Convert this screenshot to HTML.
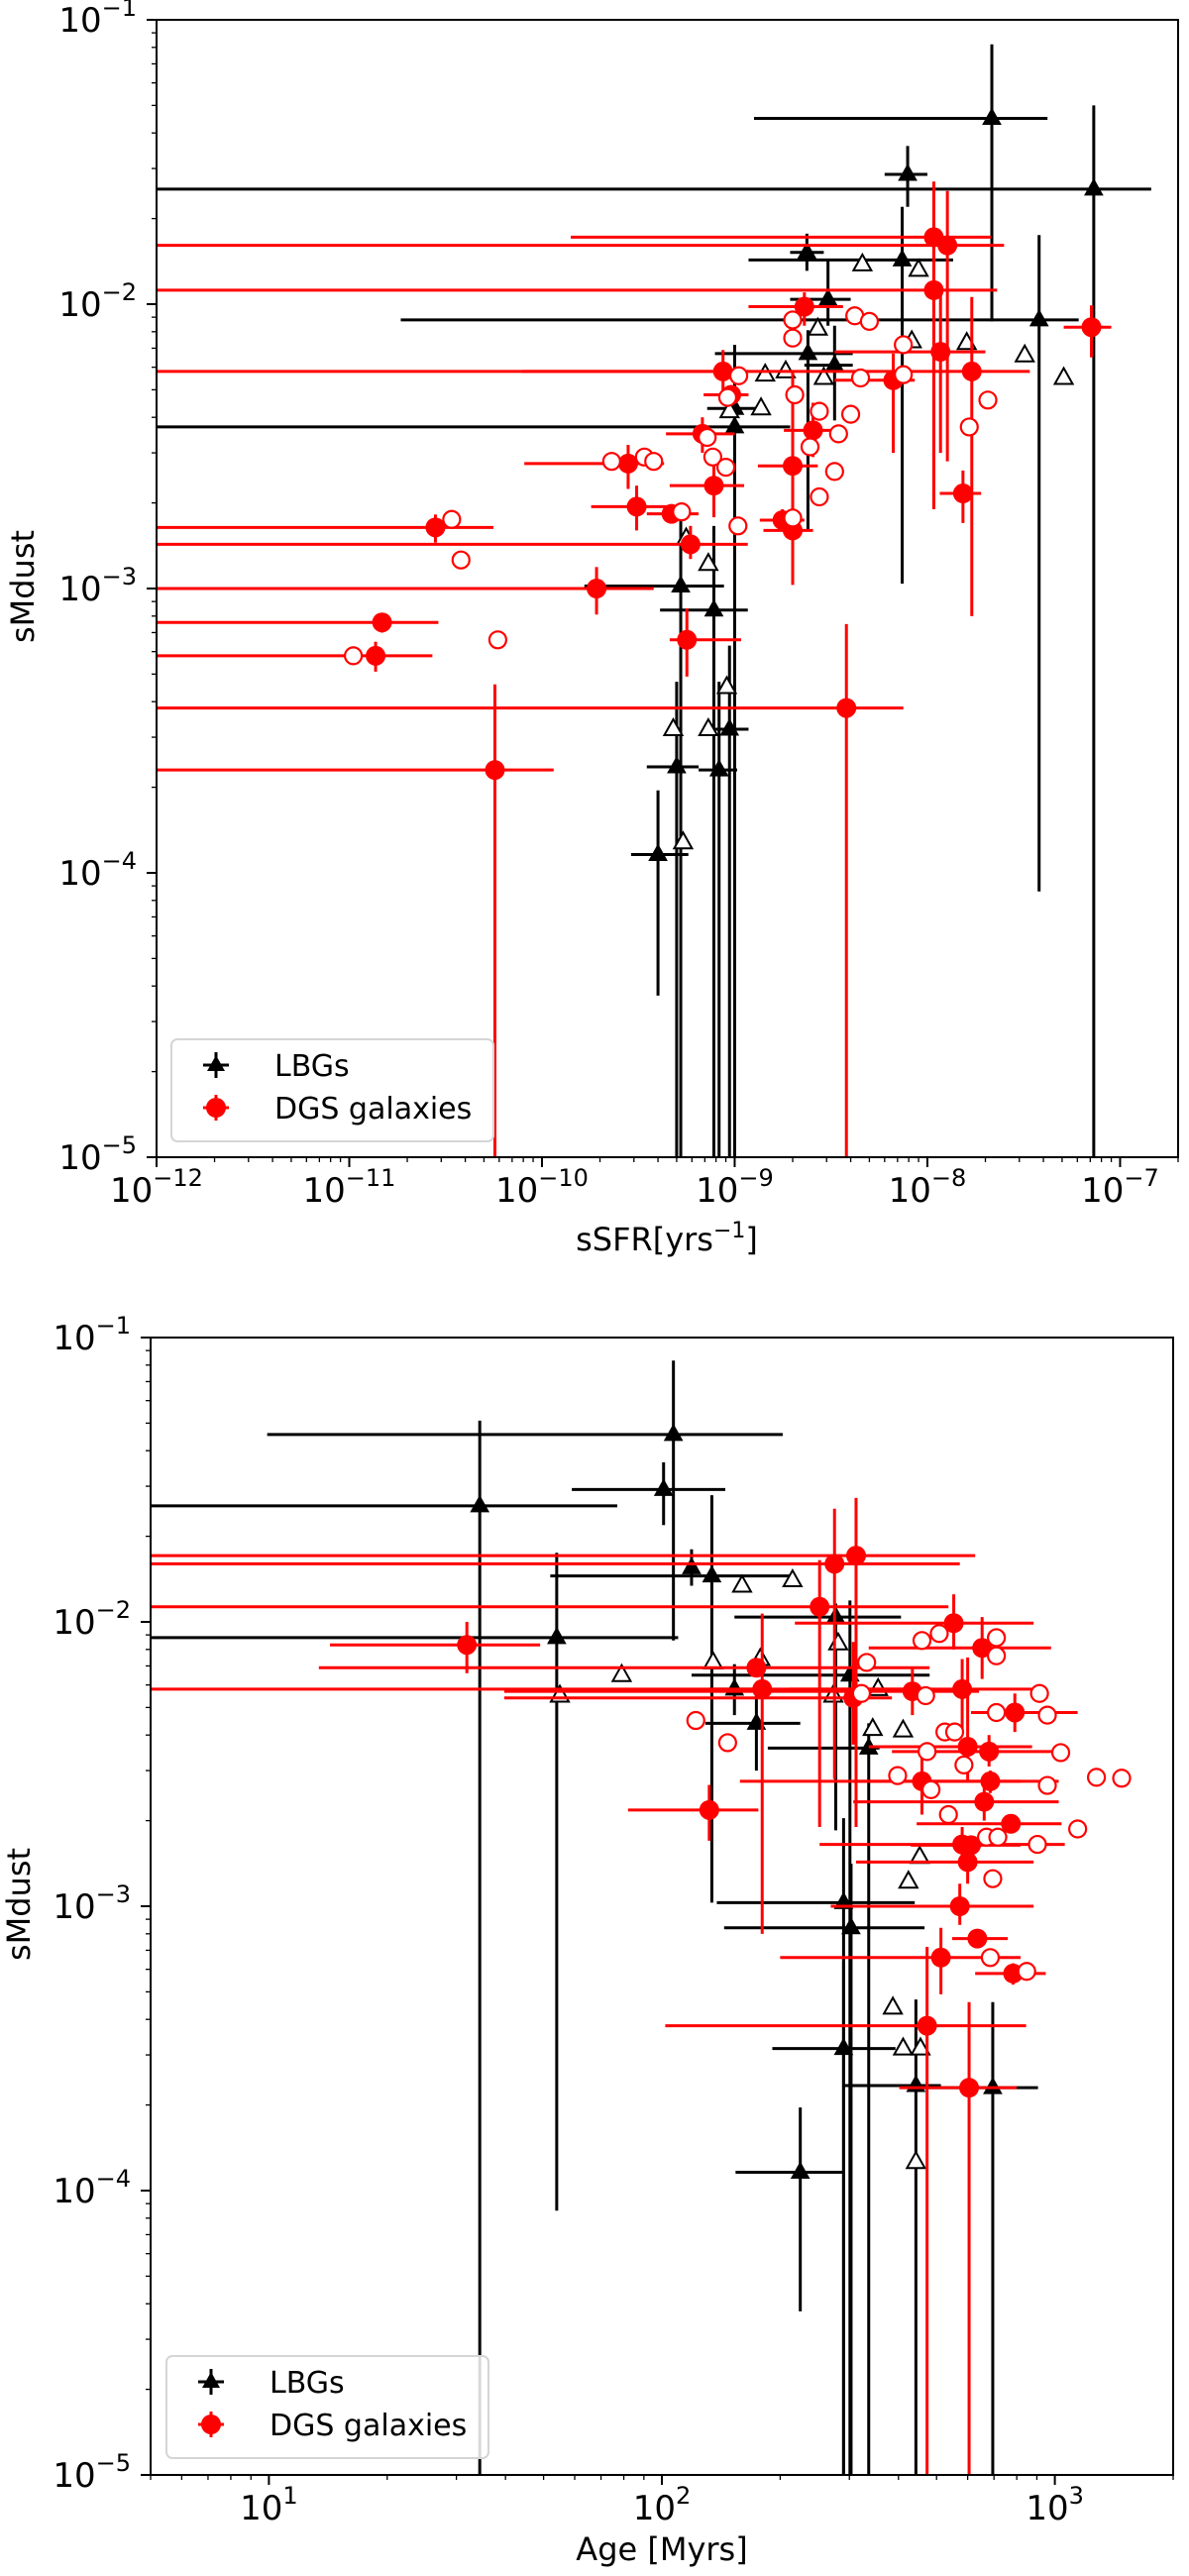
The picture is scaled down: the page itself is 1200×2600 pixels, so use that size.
<!DOCTYPE html>
<html><head><meta charset="utf-8">
<style>
html,body{margin:0;padding:0;background:#fff;width:1200px;height:2600px;overflow:hidden;position:relative;}
svg{display:block;font-family:"DejaVu Sans","Liberation Sans",sans-serif;}
</style></head>
<body>
<svg id="fig" width="1200" height="2600" viewBox="0 0 1200 2600" xmlns="http://www.w3.org/2000/svg" style="position:absolute;left:0;top:0"></svg>
<script>
// ===== TOP PANEL: sSFR vs sMdust =====
const topLbgX   =[2.16e-8,7.9e-9,7.3e-8,2.37e-9,7.4e-9,3.05e-9,3.8e-8,2.4e-9,3.3e-9,1.0e-9,1.0e-9,5.25e-10,7.8e-10,9.4e-10,5.0e-10,8.3e-10,4.0e-10];
const topLbgY   =[4.5e-2,2.86e-2,2.54e-2,1.52e-2,1.43e-2,1.04e-2,8.8e-3,6.7e-3,6.1e-3,3.7e-3,4.3e-3,1.02e-3,8.4e-4,3.2e-4,2.36e-4,2.3e-4,1.16e-4];
const topLbgXlo =[1.26e-9,6.0e-9,1e-13,1.94e-9,1.18e-9,1.94e-9,1.85e-11,7.9e-10,2.3e-9,1e-13,7.2e-10,1.66e-10,4.1e-10,7.2e-10,3.5e-10,6.5e-10,2.9e-10];
const topLbgXhi =[4.2e-8,1.0e-8,1.45e-7,2.9e-9,1.36e-8,4.0e-9,6.1e-8,4.1e-9,4.1e-9,1.94e-9,1.35e-9,8.8e-10,1.17e-9,1.18e-9,6.5e-10,1.03e-9,5.75e-10];
const topLbgYlo =[8.7e-3,2.2e-2,1e-6,1.31e-2,1.04e-3,8.4e-3,8.6e-5,1.6e-3,3.9e-3,1e-6,4.0e-3,1e-6,1e-6,1e-6,1e-6,1e-6,3.7e-5];
const topLbgYhi =[8.2e-2,3.6e-2,5.0e-2,1.77e-2,2.2e-2,1.43e-2,1.75e-2,8.1e-3,8.4e-3,7.2e-3,4.6e-3,2.0e-3,1.66e-3,6.3e-4,4.7e-4,4.7e-4,1.95e-4];
const topLbgOpenX=[4.6e-9,9.0e-9,2.7e-9,2.9e-9,8.3e-9,1.6e-8,1.44e-9,1.84e-9,1.37e-9,3.2e-8,5.1e-8,9.4e-10,5.6e-10,7.3e-10,9.1e-10,4.8e-10,7.3e-10,5.4e-10];
const topLbgOpenY=[1.38e-2,1.32e-2,8.2e-3,5.5e-3,7.4e-3,7.3e-3,5.65e-3,5.8e-3,4.3e-3,6.6e-3,5.5e-3,4.2e-3,1.5e-3,1.22e-3,4.5e-4,3.2e-4,3.2e-4,1.28e-4];
const topDgsX   =[1.08e-8,1.27e-8,1.08e-8,2.3e-9,7.1e-8,1.17e-8,8.7e-10,1.7e-8,6.65e-9,9.6e-10,2.55e-9,6.8e-10,2.8e-10,2.0e-9,7.8e-10,3.1e-10,4.7e-10,1.53e-8,2.8e-11,1.77e-9,2.0e-9,5.9e-10,1.92e-10,5.65e-10,1.48e-11,1.37e-11,3.8e-9,5.7e-11];
const topDgsY   =[1.72e-2,1.61e-2,1.12e-2,9.8e-3,8.3e-3,6.8e-3,5.8e-3,5.8e-3,5.4e-3,4.8e-3,3.6e-3,3.5e-3,2.75e-3,2.7e-3,2.3e-3,1.94e-3,1.83e-3,2.16e-3,1.64e-3,1.74e-3,1.6e-3,1.43e-3,1.0e-3,6.6e-4,7.6e-4,5.8e-4,3.8e-4,2.3e-4];
const topDgsXlo =[1.41e-10,1e-13,1e-13,1.18e-9,5.1e-8,3.3e-9,7.9e-11,1e-13,3.3e-9,6.9e-10,1.8e-9,4.4e-10,8.1e-11,1.32e-9,4.6e-10,1.8e-10,3.5e-10,1.16e-8,1e-13,1.35e-9,1.41e-9,1e-13,1e-13,4.6e-10,1e-13,1e-13,1e-13,1e-13];
const topDgsXhi =[2.14e-8,2.5e-8,2.3e-8,3.65e-9,9.0e-8,2.0e-8,1.18e-9,3.4e-8,8.6e-9,1.18e-9,3.65e-9,1.0e-9,4.3e-10,2.7e-9,1.12e-9,4.6e-10,6.5e-10,1.9e-8,5.6e-11,2.3e-9,2.55e-9,1.17e-9,3.8e-10,1.08e-9,2.9e-11,2.7e-11,7.5e-9,1.15e-10];
const topDgsYlo =[1.9e-3,2.8e-3,1.9e-3,8.4e-3,6.5e-3,3.0e-3,4.8e-3,8.0e-4,3.0e-3,4.5e-3,2.9e-3,3.0e-3,2.24e-3,1.66e-3,1.78e-3,1.6e-3,1.7e-3,1.7e-3,1.45e-3,1.6e-3,1.03e-3,1.27e-3,8.1e-4,4.9e-4,7.0e-4,5.1e-4,1e-6,1e-6];
const topDgsYhi =[2.7e-2,2.5e-2,1.69e-2,1.1e-2,9.9e-3,1.1e-2,6.9e-3,1.06e-2,6.7e-3,5.1e-3,4.5e-3,4.0e-3,3.2e-3,5.8e-3,2.8e-3,2.3e-3,1.97e-3,2.6e-3,1.82e-3,1.9e-3,2.3e-3,1.66e-3,1.19e-3,8.5e-4,8.2e-4,6.5e-4,7.5e-4,4.6e-4];
const topDgsOpenX=[2.0e-9,4.2e-9,5.0e-9,2.0e-9,7.5e-9,1.05e-9,7.5e-9,4.5e-9,9.2e-10,2.05e-9,2.75e-9,4.0e-9,2.06e-8,7.2e-10,2.46e-9,3.46e-9,1.65e-8,2.3e-10,3.4e-10,3.8e-10,7.7e-10,9.0e-10,3.3e-9,2.75e-9,5.3e-10,2.0e-9,1.04e-9,3.4e-11,3.8e-11,1.05e-11,5.9e-11];
const topDgsOpenY=[8.8e-3,9.1e-3,8.7e-3,7.6e-3,7.2e-3,5.6e-3,5.65e-3,5.5e-3,4.7e-3,4.8e-3,4.2e-3,4.1e-3,4.6e-3,3.4e-3,3.15e-3,3.5e-3,3.7e-3,2.8e-3,2.9e-3,2.8e-3,2.9e-3,2.67e-3,2.58e-3,2.1e-3,1.86e-3,1.77e-3,1.66e-3,1.75e-3,1.26e-3,5.8e-4,6.6e-4];
const topXTicks=[-12,-11,-10,-9,-8,-7];
const topYTicks=[-5,-4,-3,-2,-1];

// ===== BOTTOM PANEL: Age vs sMdust =====
const botLbgX   =[107,101,34.4,119,134,277,54,301,153,174,336,290,303,290,443,695,225];
const botLbgY   =[4.56e-2,2.92e-2,2.56e-2,1.55e-2,1.45e-2,1.04e-2,8.8e-3,6.5e-3,5.8e-3,4.4e-3,3.6e-3,1.03e-3,8.4e-4,3.16e-4,2.34e-4,2.3e-4,1.16e-4];
const botLbgXlo =[9.9,59,1,115,52,153,1,119,132,129,186,138,144,191,292,430,154];
const botLbgXhi =[203,145,77,123,215,406,110,480,176,225,358,440,466,393,513,906,292];
const botLbgYlo =[8.6e-3,2.19e-2,1e-6,1.34e-2,1.03e-3,1.85e-3,8.5e-5,1e-6,4.7e-3,3.0e-3,1e-6,1e-6,1e-6,1e-6,1e-6,1e-6,3.76e-5];
const botLbgYhi =[8.3e-2,3.64e-2,5.1e-2,1.8e-2,2.79e-2,1.16e-2,1.75e-2,1.19e-2,7.1e-3,5.6e-3,4.4e-3,2.04e-3,1.41e-3,6.4e-4,4.7e-4,4.6e-4,1.96e-4];
const botLbgOpenX=[160,215,281,135,178,79,55,273,355,344,411,453,424,387,411,455,443];
const botLbgOpenY=[1.34e-2,1.4e-2,8.4e-3,7.2e-3,7.4e-3,6.5e-3,5.5e-3,5.5e-3,5.8e-3,4.2e-3,4.15e-3,1.49e-3,1.22e-3,4.4e-4,3.16e-4,3.16e-4,1.26e-4];
const botDgsX   =[312,275,252,553,31.9,653,180,434,581,174,307,791,600,680,459,685,661,132,773,581,612,600,573,635,513,783,473,605];
const botDgsY   =[1.71e-2,1.6e-2,1.13e-2,9.9e-3,8.3e-3,8.1e-3,5.8e-3,5.7e-3,5.8e-3,6.9e-3,5.4e-3,4.8e-3,3.64e-3,3.5e-3,2.75e-3,2.75e-3,2.33e-3,2.18e-3,1.95e-3,1.65e-3,1.64e-3,1.43e-3,1.0e-3,7.7e-4,6.6e-4,5.8e-4,3.8e-4,2.3e-4];
const botDgsXlo =[1,1,1,218,14.3,336,1,39.7,211,13.4,39.7,612,336,385,158,307,307,82,445,252,430,312,269,548,200,627,102,402];
const botDgsXhi =[627,573,536,883,49,978,430,641,875,480,385,1143,875,1023,818,1023,1023,176,1040,1060,818,883,883,759,818,948,845,800];
const botDgsYlo =[1.9e-3,2.8e-3,1.9e-3,8.0e-3,6.6e-3,6.3e-3,8.0e-4,4.7e-3,4.1e-3,6.4e-3,3.7e-3,4.1e-3,2.74e-3,3.1e-3,2.1e-3,2.5e-3,2.0e-3,1.7e-3,1.85e-3,1.4e-3,1.55e-3,1.2e-3,8.6e-4,7.2e-4,4.9e-4,5.3e-4,1e-6,1e-6];
const botDgsYhi =[2.73e-2,2.5e-2,1.65e-2,1.25e-2,1.0e-2,1.04e-2,1.07e-2,6.9e-3,7.4e-3,7.4e-3,8.5e-3,5.6e-3,7.5e-3,4.0e-3,3.5e-3,3.0e-3,2.7e-3,2.67e-3,2.05e-3,1.9e-3,1.75e-3,1.65e-3,1.2e-3,8.2e-4,8.4e-4,6.3e-4,7.2e-4,4.6e-4];
const botDgsOpenX=[122,147,332,322,459,508,710,710,469,710,914,957,525,556,473,587,1035,398,484,957,1276,1479,536,1143,670,716,903,695,685,848];
const botDgsOpenY=[4.5e-3,3.76e-3,7.2e-3,5.6e-3,8.6e-3,9.1e-3,8.8e-3,7.6e-3,5.5e-3,4.8e-3,5.6e-3,4.7e-3,4.1e-3,4.1e-3,3.5e-3,3.14e-3,3.47e-3,2.88e-3,2.57e-3,2.66e-3,2.84e-3,2.82e-3,2.1e-3,1.87e-3,1.75e-3,1.75e-3,1.65e-3,1.25e-3,6.6e-4,5.9e-4];
const botXTicks=[1,2,3];
const botYTicks=[-5,-4,-3,-2,-1];

const NS='http://www.w3.org/2000/svg';
const svg=document.getElementById('fig');
function mk(tag,attrs,parent){const e=document.createElementNS(NS,tag);for(const k in attrs)e.setAttribute(k,attrs[k]);(parent||svg).appendChild(e);return e;}

function panel(id,box,xMinL,xMaxL,yMinL,yMaxL,d){
  const g=mk('g',{});
  
  
  const sx=v=>box.l+(Math.log10(v)-xMinL)/(xMaxL-xMinL)*(box.r-box.l);
  const sy=v=>box.b-(Math.log10(v)-yMinL)/(yMaxL-yMinL)*(box.b-box.t);
  const cx=v=>Math.max(box.l,Math.min(box.r,sx(v)));
  const cy=v=>Math.max(box.t,Math.min(box.b,sy(v)));
  const cp=mk('clipPath',{id:id+'-clip'},g);
  mk('rect',{x:box.l,y:box.t,width:box.r-box.l,height:box.b-box.t},cp);
  const plot=mk('g',{'clip-path':'url(#'+id+'-clip)'},g);
  
  
  function err(X,Y,XL,XH,YL,YH,color,name){
    for(let i=0;i<X.length;i++){
      const h=mk('line',{x1:cx(XL[i]),x2:cx(XH[i]),y1:sy(Y[i]),y2:sy(Y[i]),stroke:color,'stroke-width':3},plot);
      
      
      const v=mk('line',{x1:sx(X[i]),x2:sx(X[i]),y1:cy(YL[i]),y2:cy(YH[i]),stroke:color,'stroke-width':3},plot);
      
      
    }
  }
  function tri(px,py,fill,stroke,sw,parent){
    return mk('polygon',{points:`${px},${py-10} ${px-9},${py+6} ${px+9},${py+6}`,fill:fill,stroke:stroke,'stroke-width':sw},parent);
  }
  err(d.lx,d.ly,d.lxl,d.lxh,d.lyl,d.lyh,'#000','lbg');
  for(let i=0;i<d.lx.length;i++){const t=tri(sx(d.lx[i]),sy(d.ly[i]),'#000','#000',1,plot);
    
    }
  for(let i=0;i<d.lox.length;i++){const t=tri(sx(d.lox[i]),sy(d.loy[i]),'#fff','#000',2,plot);
    
    }
  err(d.dx,d.dy,d.dxl,d.dxh,d.dyl,d.dyh,'#ff0000','dgs');
  for(let i=0;i<d.dx.length;i++){const c=mk('circle',{cx:sx(d.dx[i]),cy:sy(d.dy[i]),r:10,fill:'#ff0000'},plot);
    
    }
  for(let i=0;i<d.dox.length;i++){const c=mk('circle',{cx:sx(d.dox[i]),cy:sy(d.doy[i]),r:8.5,fill:'#fff',stroke:'#ff0000','stroke-width':2.2},plot);
    
    }
  const fr=mk('rect',{x:box.l,y:box.t,width:box.r-box.l,height:box.b-box.t,fill:'none',stroke:'#000','stroke-width':2},g);
  
  
  for(let e=Math.floor(xMinL);e<=Math.ceil(xMaxL);e++){
    for(let m=1;m<10;m++){
      const lv=e+Math.log10(m); if(lv<xMinL-1e-9||lv>xMaxL+1e-9) continue;
      const x=sx(Math.pow(10,lv));
      mk('line',{x1:x,x2:x,y1:box.b,y2:box.b+(m===1?10:5),stroke:'#000','stroke-width':m===1?2:1.3},g);
    }
  }
  d.xt.forEach(e=>{
    const x=sx(Math.pow(10,e));
    const t=mk('text',{x:x,y:box.b+45,'font-size':34,'text-anchor':'middle',fill:'#000'},g);
    
    
    t.appendChild(document.createTextNode('10'));
    const s=mk('tspan',{dy:-16,'font-size':24},t); s.textContent=(e<0?'\u2212':'')+Math.abs(e);
  });
  for(let e=Math.floor(yMinL);e<=Math.ceil(yMaxL);e++){
    for(let m=1;m<10;m++){
      const lv=e+Math.log10(m); if(lv<yMinL-1e-9||lv>yMaxL+1e-9) continue;
      const y=sy(Math.pow(10,lv));
      mk('line',{x1:box.l,x2:box.l-(m===1?10:5),y1:y,y2:y,stroke:'#000','stroke-width':m===1?2:1.3},g);
    }
  }
  d.yt.forEach(e=>{
    const y=sy(Math.pow(10,e));
    const t=mk('text',{x:box.l-20,y:y+12,'font-size':34,'text-anchor':'end',fill:'#000'},g);
    
    
    t.appendChild(document.createTextNode('10'));
    const s=mk('tspan',{dy:-16,'font-size':24},t); s.textContent='\u2212'+Math.abs(e);
  });
  return {sx,sy};
}

panel('top',{l:158,r:1189,t:20,b:1168},-12,Math.log10(2e-7),-5,-1,
 {lx:topLbgX,ly:topLbgY,lxl:topLbgXlo,lxh:topLbgXhi,lyl:topLbgYlo,lyh:topLbgYhi,lox:topLbgOpenX,loy:topLbgOpenY,
  dx:topDgsX,dy:topDgsY,dxl:topDgsXlo,dxh:topDgsXhi,dyl:topDgsYlo,dyh:topDgsYhi,dox:topDgsOpenX,doy:topDgsOpenY,xt:topXTicks,yt:topYTicks});
panel('bottom',{l:152,r:1184,t:1350,b:2498},Math.log10(5),Math.log10(2000),-5,-1,
 {lx:botLbgX,ly:botLbgY,lxl:botLbgXlo,lxh:botLbgXhi,lyl:botLbgYlo,lyh:botLbgYhi,lox:botLbgOpenX,loy:botLbgOpenY,
  dx:botDgsX,dy:botDgsY,dxl:botDgsXlo,dxh:botDgsXhi,dyl:botDgsYlo,dyh:botDgsYhi,dox:botDgsOpenX,doy:botDgsOpenY,xt:botXTicks,yt:botYTicks});

function legend(name,x0,y0){
  const g=mk('g',{});
  
  
  mk('rect',{x:x0,y:y0,width:325,height:103,rx:6,fill:'#fff','fill-opacity':0.85,stroke:'#d5d5d5','stroke-width':2},g);
  const mx=x0+45, y1=y0+26, y2=y0+69;
  mk('line',{x1:mx,x2:mx,y1:y1-13,y2:y1+13,stroke:'#000','stroke-width':3},g);
  mk('line',{x1:mx-13,x2:mx+13,y1:y1,y2:y1,stroke:'#000','stroke-width':3},g);
  mk('polygon',{points:`${mx},${y1-10} ${mx-9},${y1+6} ${mx+9},${y1+6}`,fill:'#000'},g);
  const t1=mk('text',{x:x0+104,y:y1+11,'font-size':30,fill:'#000'},g); t1.textContent='LBGs';
  
  
  mk('line',{x1:mx,x2:mx,y1:y2-13,y2:y2+13,stroke:'#ff0000','stroke-width':3},g);
  mk('line',{x1:mx-13,x2:mx+13,y1:y2,y2:y2,stroke:'#ff0000','stroke-width':3},g);
  mk('circle',{cx:mx,cy:y2,r:10,fill:'#ff0000'},g);
  const t2=mk('text',{x:x0+104,y:y2+11,'font-size':30,fill:'#000'},g); t2.textContent='DGS galaxies';
  
  
}
legend('top-legend',173,1049);
legend('bottom-legend',168,2378);
</script>
<svg style="position:absolute;left:0;top:0" width="1200" height="2600" xmlns="http://www.w3.org/2000/svg">
  <text x="673" y="1262" font-size="32" text-anchor="middle" font-family="DejaVu Sans, Liberation Sans, sans-serif">sSFR[yrs<tspan dy="-13" font-size="22">−1</tspan><tspan dy="13">]</tspan></text>
  <text transform="translate(34,592) rotate(-90)" font-size="32" text-anchor="middle" font-family="DejaVu Sans, Liberation Sans, sans-serif">sMdust</text>
  <text x="668" y="2584" font-size="32" text-anchor="middle" font-family="DejaVu Sans, Liberation Sans, sans-serif">Age [Myrs]</text>
  <text transform="translate(30,1922) rotate(-90)" font-size="32" text-anchor="middle" font-family="DejaVu Sans, Liberation Sans, sans-serif">sMdust</text>
</svg>
</body></html>
